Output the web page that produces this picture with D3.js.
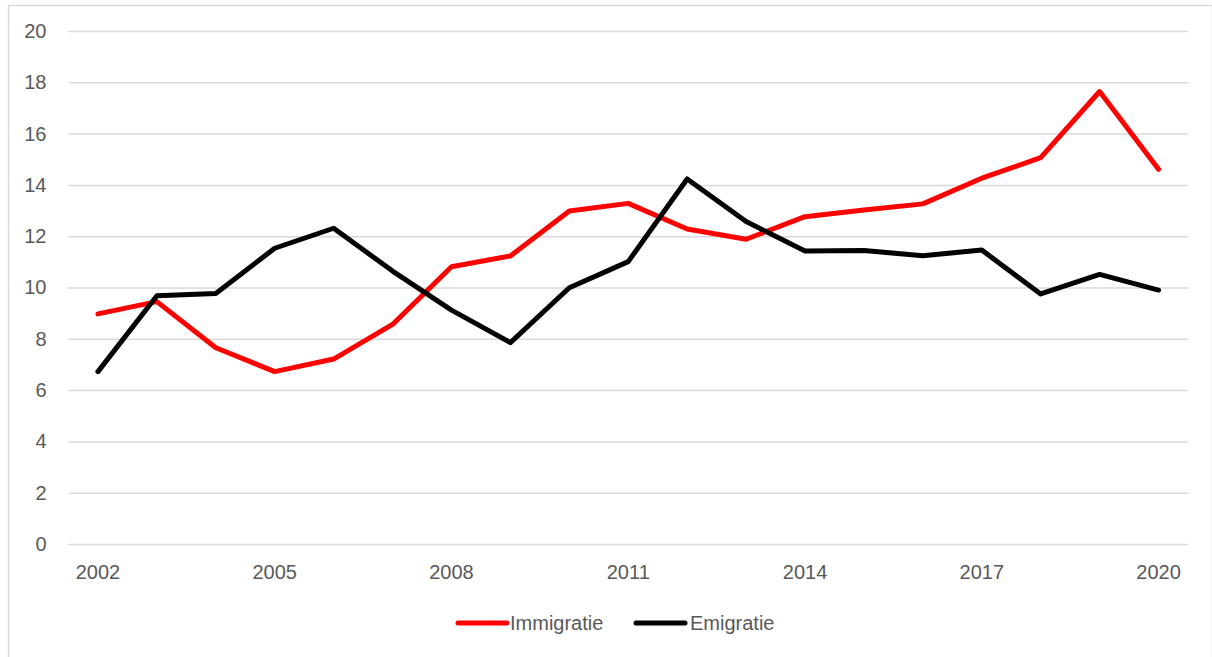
<!DOCTYPE html>
<html>
<head>
<meta charset="utf-8">
<script src="https://cdn.jsdelivr.net/npm/d3@7"></script>
<style>
  html, body { margin: 0; padding: 0; background: #fff; }
  svg { display: block; }
  text { font-family: "Liberation Sans", Arial, sans-serif; fill: #595959; }
</style>
</head>
<body>
<svg id="chart" width="1212" height="657"></svg>
<script>
const years = [2002,2003,2004,2005,2006,2007,2008,2009,2010,2011,2012,2013,2014,2015,2016,2017,2018,2019,2020];
const immigratie = [8.97,9.45,7.65,6.72,7.21,8.56,10.81,11.23,12.98,13.28,12.28,11.88,12.76,13.02,13.26,14.26,15.06,17.64,14.61];
const emigratie  = [6.72,9.68,9.77,11.53,12.31,10.64,9.12,7.85,9.99,11.01,14.23,12.57,11.42,11.44,11.24,11.46,9.75,10.51,9.90];
const yTicks = [0,2,4,6,8,10,12,14,16,18,20];
const xTickYears = [2002,2005,2008,2011,2014,2017,2020];
const seriesNames = ["Immigratie","Emigratie"];
const seriesColors = ["#ff0000","#000000"];

(function () {
const svg = d3.select("#chart");
const W = 1212, H = 657;
const FS = 20;

// outer chart border
svg.append("rect").attr("x", 8.5).attr("y", 5.5).attr("width", W - 8).attr("height", H)
  .attr("fill", "#fff").attr("stroke", "#d9d9d9").attr("stroke-width", 1.5);

const pLeft = 68.5, pRight = 1188, pTop = 31, pBottom = 544;

const x = d3.scaleBand().domain(years).range([pLeft, pRight]);
const xc = d => x(d) + x.bandwidth() / 2;
const y = d3.scaleLinear().domain([0, 20]).range([pBottom, pTop]);

// gridlines + y labels
const yAxis = d3.axisLeft(y).tickValues(yTicks).tickSize(-(pRight - pLeft)).tickPadding(22).tickFormat(d3.format("d"));
const gy = svg.append("g").attr("transform", `translate(${pLeft},0)`).call(yAxis);
gy.select(".domain").remove();
gy.selectAll(".tick line").attr("stroke", "#d9d9d9").attr("stroke-width", 1.5);
gy.selectAll(".tick text").attr("font-size", FS).attr("fill", "#595959")
  .attr("font-family", "'Liberation Sans', Arial, sans-serif");

// x axis labels
const xAxis = d3.axisBottom(x).tickValues(xTickYears).tickSize(0).tickPadding(21);
const gx = svg.append("g").attr("transform", `translate(0,${pBottom})`).call(xAxis);
gx.select(".domain").remove();
gx.selectAll(".tick text").attr("font-size", FS).attr("fill", "#595959")
  .attr("font-family", "'Liberation Sans', Arial, sans-serif");

// lines
const line = d3.line().x((d, i) => xc(years[i])).y(d => y(d));
[immigratie, emigratie].forEach((vals, k) => {
  svg.append("path").datum(vals)
    .attr("d", line)
    .attr("fill", "none")
    .attr("stroke", seriesColors[k])
    .attr("stroke-width", 5)
    .attr("stroke-linejoin", "round")
    .attr("stroke-linecap", "round");
});

// legend
const legendY = 623;
const legendItems = [{x: 458, tx: 510}, {x: 636, tx: 690}];
seriesNames.forEach((name, k) => {
  const g = svg.append("g");
  g.append("line").attr("x1", legendItems[k].x).attr("x2", legendItems[k].x + 49)
    .attr("y1", legendY).attr("y2", legendY)
    .attr("stroke", seriesColors[k]).attr("stroke-width", 5).attr("stroke-linecap", "round");
  g.append("text").attr("x", legendItems[k].tx).attr("y", legendY).attr("dy", "0.35em")
    .attr("font-size", FS).text(name);
});
})();
</script>
</body>
</html>
